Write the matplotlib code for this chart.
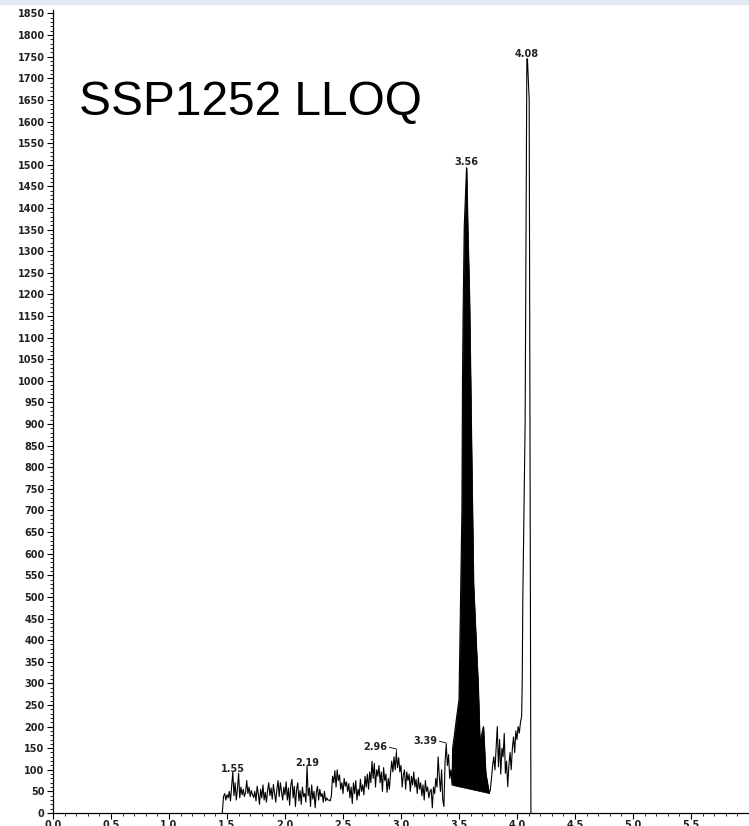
import matplotlib
matplotlib.use('Agg')
import matplotlib.pyplot as plt
import matplotlib.patches as mpatches
from matplotlib.ticker import MultipleLocator
import numpy as np

# baseline noise, one reading every 0.01 min from 1.46 to 3.43
noise_start = 1.46
noise_step = 0.01
noise_values = [
    2, 38, 45, 30, 42, 35, 50, 28, 60, 95,
    40, 70, 30, 55, 92, 35, 60, 42, 55, 38,
    48, 75, 45, 60, 38, 52, 42, 36, 50, 28,
    62, 44, 20, 55, 35, 65, 30, 48, 25, 52,
    70, 40, 58, 32, 66, 45, 25, 55, 75, 38,
    70, 50, 30, 60, 42, 72, 30, 58, 18, 65,
    78, 35, 62, 15, 55, 70, 28, 52, 20, 60,
    38, 45, 25, 108, 40, 58, 15, 65, 32, 50,
    12, 48, 62, 30, 55, 38, 45, 25, 50, 28,
    35, 30, 30, 28, 40, 85, 70, 98, 60, 100,
    75, 88, 55, 70, 45, 80, 62, 72, 50, 68,
    35, 60, 22, 70, 45, 75, 30, 55, 40, 78,
    50, 65, 42, 85, 60, 90, 55, 95, 70, 120,
    80, 115, 60, 100, 85, 110, 70, 95, 50, 105,
    75, 90, 48, 80, 55, 92, 120, 95, 130, 100,
    140, 105, 128, 95, 110, 60, 88, 100, 55, 95,
    75, 90, 50, 85, 65, 95, 60, 78, 45, 82,
    55, 70, 40, 65, 30, 75, 50, 60, 35, 50,
    55, 12, 60, 45, 80, 60, 130, 85, 50, 100,
    30, 15, 120, 158, 110, 135, 80, 100,
]

# integrated peak at 3.56 and the tail up to the 4.08 peak
peak_times = [3.44, 3.445, 3.46, 3.48, 3.50, 3.525, 3.53, 3.535, 3.545, 3.565,
              3.575, 3.59, 3.60, 3.61, 3.625, 3.65, 3.665, 3.68, 3.71, 3.73, 3.76]
peak_values = [65, 150, 180, 223, 262, 700, 1000, 1150, 1356, 1493,
               1356, 1190, 1000, 800, 530, 380, 296, 162, 200, 92, 46]

tail_times = [3.77, 3.78, 3.79, 3.80, 3.81, 3.82, 3.83, 3.84, 3.85, 3.86,
              3.87, 3.88, 3.89, 3.90, 3.91, 3.92, 3.93, 3.94, 3.95, 3.96,
              3.97, 3.98, 3.99, 4.00, 4.01, 4.02, 4.03, 4.04, 4.045, 4.05,
              4.07, 4.085, 4.09, 4.105, 4.12]
tail_values = [53, 80, 110, 130, 100, 150, 200, 107, 170, 90,
               150, 130, 184, 92, 120, 61, 110, 140, 100, 150,
               176, 140, 190, 170, 200, 185, 210, 223, 300, 490,
               900, 1745, 1745, 1650, 0]

# integration baseline of the 3.56 peak
base_times = [3.44, 3.76]
base_values = [65, 46]

# peak labels: (text, x, y)
plain_labels = [('1.55', 1.554, 102), ('2.19', 2.194, 116),
                ('3.56', 3.56, 1507), ('4.08', 4.08, 1756)]
# labels with a leader line: (text, text x, text y, peak x, peak y)
leader_labels = [('2.96', 2.776, 152, 2.96, 140), ('3.39', 3.207, 166, 3.39, 158)]

title_text = 'SSP1252 LLOQ'


def build_trace():
    n = len(noise_values)
    times = [round(noise_start + i * noise_step, 3) for i in range(n)]
    t = np.array(times + peak_times + tail_times)
    y = np.array(noise_values + peak_values + tail_values)
    return t, y


def plot():
    t, y = build_trace()

    fig = plt.figure(figsize=(7.49, 8.26), dpi=100)
    fig.patches.append(mpatches.Rectangle((0, 1 - 4 / 826), 1, 4 / 826,
                                          transform=fig.transFigure,
                                          color='#e4e9f6', zorder=0))

    ax = fig.add_axes([53 / 749, 13 / 826, 696 / 749, 803 / 826])
    ax.set_xlim(0, 6.0)
    ax.set_ylim(0, 1858)

    pt = np.array(peak_times)
    pv = np.array(peak_values)
    base = np.interp(pt, base_times, base_values)
    ax.fill_between(pt, base, pv, color='black', lw=0.5, zorder=2)

    ax.plot(t, y, color='black', lw=0.8, zorder=3)
    ax.plot([t[0], t[0]], [0, y[0]], color='black', lw=0.8)

    for txt, x, yy in plain_labels:
        ax.text(x, yy, txt, ha='center', va='center', fontsize=7,
                fontweight='bold', color='#222222')
    for txt, x, yy, px, py in leader_labels:
        ax.text(x, yy, txt, ha='center', va='center', fontsize=7,
                fontweight='bold', color='#222222')
        ax.plot([x + 0.125, px, px], [yy, yy - 4, py], color='black', lw=0.6)

    for side in ('top', 'right'):
        ax.spines[side].set_visible(False)
    ax.spines['left'].set_linewidth(0.9)
    ax.spines['bottom'].set_linewidth(0.9)

    ax.xaxis.set_minor_locator(MultipleLocator(0.1))
    ax.yaxis.set_minor_locator(MultipleLocator(10))
    ax.set_xticks(np.arange(0, 5.51, 0.5))
    ax.set_xticklabels(['%.1f' % v for v in np.arange(0, 5.51, 0.5)])
    ax.set_yticks(np.arange(0, 1851, 50))
    ax.set_yticklabels([str(v) for v in range(0, 1851, 50)])
    ax.tick_params(which='major', direction='out', length=4, width=0.8,
                   labelsize=7, pad=2)
    ax.tick_params(axis='x', which='major', pad=1)
    ax.tick_params(which='minor', direction='out', length=2, width=0.6)
    for lab in ax.get_xticklabels() + ax.get_yticklabels():
        lab.set_fontweight('bold')
        lab.set_color('#222222')

    fig.text(79 / 749, 1 - 115 / 826, title_text, fontsize=34.5,
             family='Liberation Sans', ha='left', va='baseline')

    fig.savefig('out.png', dpi=100)


if __name__ == '__main__':
    plot()
